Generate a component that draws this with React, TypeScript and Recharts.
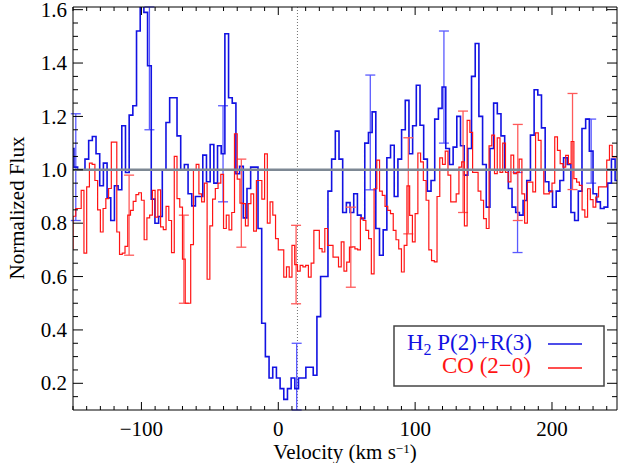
import React from "react";
import { LineChart, Line, XAxis, YAxis, ErrorBar, ReferenceLine } from "recharts";

const W = 618;
const H = 463;
const PLOT_TOP = 7;
const PLOT_LEFT = 73;
const PLOT_RIGHT_PAD = 1;
const AXIS_H = 53;
const PLOT_H = H - PLOT_TOP - AXIS_H;
const PLOT_W = W - PLOT_LEFT - PLOT_RIGHT_PAD;

const X_DOMAIN: [number, number] = [-150, 247.5];
const Y_DOMAIN: [number, number] = [0.1, 1.61];

const xMajor = [-100, 0, 100, 200];
const xTicks = [
  -150, -140, -130, -120, -110, -100, -90, -80, -70, -60, -50, -40, -30, -20, -10, 0, 10, 20, 30, 40,
  50, 60, 70, 80, 90, 100, 110, 120, 130, 140, 150, 160, 170, 180, 190, 200, 210, 220, 230, 240,
];
const yMajor = [0.2, 0.4, 0.6, 0.8, 1.0, 1.2, 1.4, 1.6];
const yTicks = [
  0.15, 0.2, 0.25, 0.3, 0.35, 0.4, 0.45, 0.5, 0.55, 0.6, 0.65, 0.7, 0.75, 0.8, 0.85, 0.9, 0.95, 1.0,
  1.05, 1.1, 1.15, 1.2, 1.25, 1.3, 1.35, 1.4, 1.45, 1.5, 1.55, 1.6,
];

// H2 P(2)+R(3): bin centres start at -150.655 km/s, 2.69 km/s bins
const h2Start = -150.655;
const h2Step = 2.69;
const h2Flux = [
  1.08, 1.01, 1.0, 1.0, 1.04, 1.11, 1.125, 1.06, 0.94, 1.025,
  0.895, 0.81, 0.94, 0.925, 1.165, 0.99, 1.205, 1.24, 1.52, 1.7,
  1.59, 1.39, 0.89, 0.8, 0.825, 1.0, 1.177, 1.27, 1.27, 1.127,
  1.0, 1.02, 0.91, 0.865, 0.9, 0.9, 1.055, 0.955, 1.095, 0.95,
  1.09, 1.06, 1.51, 1.27, 1.25, 0.985, 1.013, 0.82, 0.93, 1.01,
  1.01, 0.78, 0.425, 0.3, 0.22, 0.26, 0.22, 0.18, 0.14, 0.18,
  0.22, 0.18, 0.22, 0.22, 0.26, 0.26, 0.23, 0.45, 0.6, 0.6,
  0.92, 1.04, 1.145, 1.04, 0.84, 0.877, 0.84, 0.91, 0.83, 0.817,
  1.1, 1.14, 1.217, 0.78, 0.68, 0.775, 1.045, 1.092, 0.9, 1.04,
  1.15, 1.26, 1.06, 1.165, 1.317, 1.167, 1.04, 0.92, 0.96, 1.19,
  1.23, 1.31, 1.08, 1.02, 1.085, 1.2, 1.09, 0.98, 1.08, 1.35,
  1.473, 1.2, 1.02, 0.86, 1.08, 1.25, 1.21, 1.127, 1.0, 0.93,
  0.86, 0.84, 0.83, 0.885, 0.96, 1.13, 1.3, 1.28, 1.157, 0.955,
  0.92, 0.86, 0.92, 0.96, 1.045, 1.02, 0.84, 0.81, 0.92, 1.155,
  1.19, 1.07, 0.91, 0.88, 0.855, 0.86, 0.95, 1.04, 0.96, 0.96,
];
// error bars: [below, above]; the ones running off the frame stop at its edge
const h2ErrBins = [1, 21, 41, 61, 81, 101, 121, 141];
const h2ErrSize: [number, number][] = [
  [0.2, 0.2], [0.24, 0.22], [0.18, 0.18], [0.08, 0.17],
  [0.215, 0.215], [0.21, 0.21], [0.15, 0.15], [0.12, 0.12],
];

// CO (2-0): bin centres start at -151 km/s, 2 km/s bins
const coStart = -151;
const coStep = 2;
const coFlux = [
  0.704, 0.826, 0.855, 0.855, 0.923, 0.688, 0.936, 1.025, 1.02, 0.96,
  0.85, 0.767, 0.855, 0.892, 0.93, 1.104, 1.104, 0.767, 0.683, 0.688,
  0.713, 0.83, 0.848, 0.882, 0.907, 0.914, 0.886, 0.738, 0.82, 0.83,
  0.923, 0.823, 0.925, 0.786, 0.776, 0.863, 0.81, 0.69, 1.05, 0.892,
  0.86, 0.665, 0.5, 0.5, 0.72, 1.0, 1.02, 0.91, 0.88, 0.95,
  0.59, 0.79, 0.89, 0.93, 0.95, 0.983, 0.78, 0.83, 0.775, 0.84,
  1.135, 0.965, 0.875, 0.873, 0.79, 0.873, 0.91, 0.77, 0.96, 0.96,
  0.89, 1.06, 0.8, 0.88, 0.83, 0.742, 0.7, 0.7, 0.598, 0.636,
  0.598, 0.717, 0.645, 0.62, 0.642, 0.636, 0.642, 0.598, 0.65, 0.773,
  0.773, 0.705, 0.692, 0.78, 0.717, 0.717, 0.673, 0.673, 0.636, 0.73,
  0.62, 0.654, 0.71, 0.711, 0.704, 0.7, 0.82, 0.81, 0.773, 0.742,
  0.61, 0.929, 1.036, 0.92, 0.904, 0.863, 0.848, 0.836, 0.773, 0.738,
  0.704, 0.617, 0.717, 0.94, 0.829, 0.73, 0.836, 1.063, 1.03, 0.96,
  0.886, 0.7, 0.66, 0.655, 0.9, 1.045, 1.02, 1.07, 0.98, 0.88,
  0.88, 0.91, 1.01, 1.03, 0.79, 1.185, 1.14, 0.99, 0.99, 0.92,
  0.886, 0.817, 0.78, 1.09, 1.13, 0.986, 1.12, 0.99, 1.1, 0.99,
  0.955, 1.055, 0.986, 0.99, 1.04, 0.91, 0.8, 0.954, 0.954, 0.917,
  1.138, 1.11, 1.0, 0.91, 0.91, 0.917, 0.95, 1.123, 1.073, 1.023,
  1.01, 1.054, 1.023, 1.106, 0.967, 0.954, 0.942, 0.85, 0.823, 0.929,
  0.888, 0.86, 0.898, 0.936, 0.936, 0.936, 1.036, 1.092, 1.048, 1.048,
  1.048,
];
const coErrBins = [21, 41, 62, 82, 102, 123, 143, 163, 183];
const coErrSize: [number, number][] = [
  [0.15, 0.15], [0.165, 0.165], [0.165, 0.165], [0.147, 0.147], [0.15, 0.15],
  [0.18, 0.18], [0.19, 0.19], [0.18, 0.18], [0.18, 0.18],
];

const restVelocity = 14;

const BLUE = "#1212e2";
const RED = "#ff1414";
const FONT = '"Liberation Serif", "Times New Roman", "DejaVu Serif", serif';
const txt = { fontFamily: FONT };

function buildSeries(start: number, step: number, flux: number[], bins: number[], sizes: [number, number][]) {
  return flux.map((f, i) => {
    const k = bins.indexOf(i);
    return { v: start + i * step, f, e: k >= 0 ? sizes[k] : undefined };
  });
}

const h2Data = buildSeries(h2Start, h2Step, h2Flux, h2ErrBins, h2ErrSize);
const coData = buildSeries(coStart, coStep, coFlux, coErrBins, coErrSize);

const fmtX = (v: number) => (v < 0 ? `\u2212${-v}` : `${v}`);

function XTick(props: any) {
  const { x, y, payload } = props;
  const v = payload.value;
  const major = xMajor.includes(v);
  const len = major ? 8 : 4;
  const top = y - PLOT_H;
  return (
    <g>
      <line x1={x} x2={x} y1={y} y2={y - len} stroke="#000" strokeWidth={1} />
      <line x1={x} x2={x} y1={top} y2={top + len} stroke="#000" strokeWidth={1} />
      {major && (
        <text x={x} y={y + 26} textAnchor="middle" fontSize={21} style={txt} fill="#000">
          {fmtX(v)}
        </text>
      )}
    </g>
  );
}

function YTick(props: any) {
  const { x, y, payload } = props;
  const v = payload.value;
  const major = yMajor.some((m) => Math.abs(m - v) < 1e-6);
  const len = major ? 10 : 5;
  const right = x + PLOT_W;
  return (
    <g>
      <line x1={x} x2={x + len} y1={y} y2={y} stroke="#000" strokeWidth={1} />
      <line x1={right} x2={right - len} y1={y} y2={y} stroke="#000" strokeWidth={1} />
      {major && (
        <text x={x - 6} y={y} dy="0.34em" textAnchor="end" fontSize={21} style={txt} fill="#000">
          {v.toFixed(1)}
        </text>
      )}
    </g>
  );
}

export default function App() {
  return (
    <div style={{ position: "absolute", left: 0, top: 0, width: W, height: H, background: "#fff" }}>
      <LineChart width={W} height={H} margin={{ top: PLOT_TOP, right: PLOT_RIGHT_PAD, bottom: 0, left: 0 }}>
        <XAxis
          type="number"
          dataKey="v"
          domain={X_DOMAIN}
          allowDataOverflow
          ticks={xTicks}
          interval={0}
          tick={<XTick />}
          tickLine={false}
          tickSize={0}
          tickMargin={0}
          height={AXIS_H}
          axisLine={{ stroke: "#000", strokeWidth: 1 }}
        />
        <YAxis
          type="number"
          domain={Y_DOMAIN}
          allowDataOverflow
          ticks={yTicks}
          interval={0}
          tick={<YTick />}
          tickLine={false}
          tickSize={0}
          tickMargin={0}
          width={PLOT_LEFT}
          axisLine={{ stroke: "#000", strokeWidth: 1 }}
        />
        <ReferenceLine x={restVelocity} stroke="#707070" strokeWidth={1} strokeDasharray="1 2" />
        <Line
          data={h2Data}
          dataKey="f"
          type="step"
          stroke={BLUE}
          strokeWidth={1.6}
          dot={false}
          activeDot={false}
          isAnimationActive={false}
        >
          <ErrorBar dataKey="e" direction="y" width={5} stroke="#5a5aff" strokeWidth={1.3} />
        </Line>
        <Line
          data={coData}
          dataKey="f"
          type="step"
          stroke={RED}
          strokeWidth={1.2}
          dot={false}
          activeDot={false}
          isAnimationActive={false}
        >
          <ErrorBar dataKey="e" direction="y" width={5} stroke="#ff5a5a" strokeWidth={1.3} />
        </Line>
        <ReferenceLine y={1} stroke="#7d8894" strokeWidth={2.5} />
        <ReferenceLine y={Y_DOMAIN[1]} stroke="#000" strokeWidth={1} />
        <ReferenceLine x={X_DOMAIN[1]} stroke="#000" strokeWidth={1} />
      </LineChart>
      <svg width={W} height={H} style={{ position: "absolute", left: 0, top: 0, pointerEvents: "none", ...txt }}>
        <text transform="translate(24,208) rotate(-90)" textAnchor="middle" fontSize={21} fill="#000" style={txt}>
          Normalized Flux
        </text>
        <text x={345} y={459} textAnchor="middle" fontSize={21} fill="#000" style={txt}>
          Velocity (km s
          <tspan dy={-6} fontSize={13}>
            {"\u22121"}
          </tspan>
          <tspan dy={6}>)</tspan>
        </text>
        <rect x={394} y={326} width={210} height={60} fill="#fff" stroke="#444" strokeWidth={1.5} />
        <text x={532} y={350} textAnchor="end" fontSize={23} fill={BLUE} style={txt}>
          H
          <tspan dy={5} fontSize={16}>
            2
          </tspan>
          <tspan dy={-5}> P(2)+R(3)</tspan>
        </text>
        <line x1={548} x2={582} y1={344} y2={344} stroke={BLUE} strokeWidth={1.5} />
        <text x={531} y={373} textAnchor="end" fontSize={23} fill={RED} style={txt}>
          CO (2{"\u2212"}0)
        </text>
        <line x1={548} x2={582} y1={368} y2={368} stroke={RED} strokeWidth={1.5} />
      </svg>
    </div>
  );
}
